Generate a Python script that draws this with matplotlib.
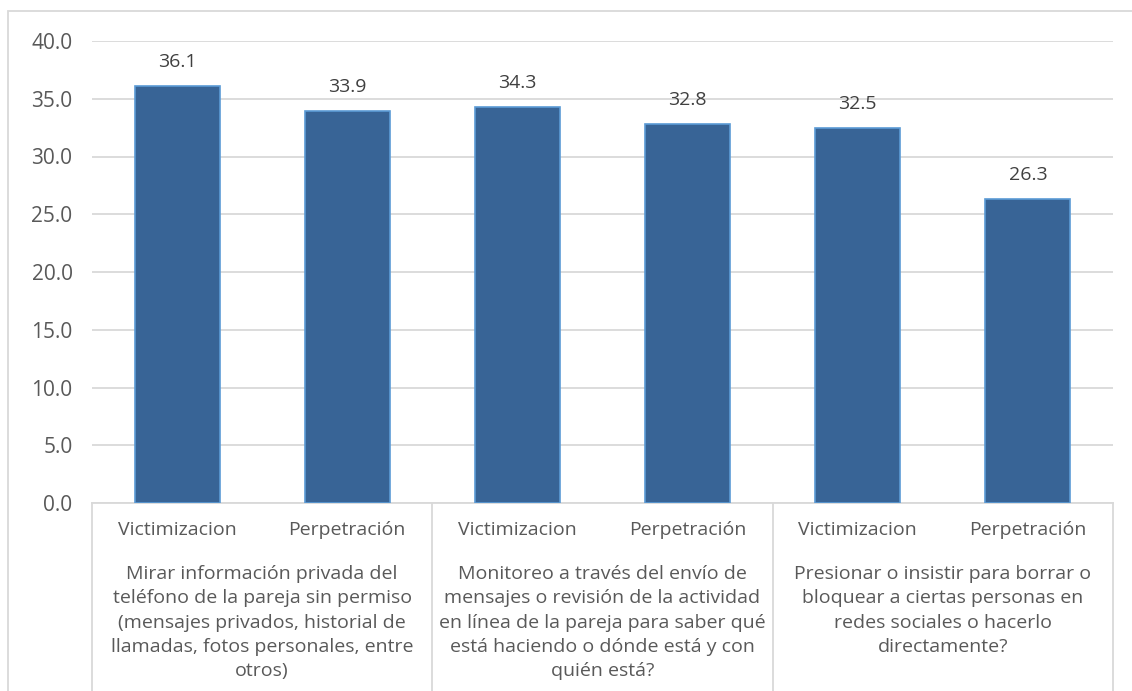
import numpy as np
import matplotlib.pyplot as plt
from matplotlib.patches import Rectangle
from matplotlib.lines import Line2D

plt.rcParams['font.family'] = ['Open Sans', 'DejaVu Sans']

sub_labels = ['Victimizacion', 'Perpetración'] * 3
group_labels = ['Mirar información privada del\nteléfono de la pareja sin permiso\n(mensajes privados, historial de\nllamadas, fotos personales, entre\notros)',
                'Monitoreo a través del envío de\nmensajes o revisión de la actividad\nen línea de la pareja para saber qué\nestá haciendo o dónde está y con\nquién está?',
                'Presionar o insistir para borrar o\nbloquear a ciertas personas en\nredes sociales o hacerlo\ndirectamente?']
values = [36.1, 33.9, 34.3, 32.8, 32.5, 26.3]

W, H = 1132, 691
fig = plt.figure(figsize=(W/100, H/100), dpi=100)
ax = fig.add_axes([92/W, (H-503)/H, (1113-92)/W, (503-41)/H])

x = np.arange(len(values))
ax.bar(x, values, width=0.5, color='#386496', edgecolor='#5b9bd5', linewidth=1.2, zorder=3)
for xi, v in zip(x, values):
    ax.annotate(f'{v:.1f}', (xi, v), xytext=(0, 24), textcoords='offset pixels',
                ha='center', va='center', fontsize=14, color='#404040')

ax.set_xlim(-0.5, len(values) - 0.5)
ax.set_ylim(0, 40)
ax.set_yticks(np.arange(0, 41, 5))
ax.set_yticklabels([f'{t:.1f}' for t in np.arange(0, 41, 5)], fontsize=15, color='#595959')
ax.tick_params(axis='y', length=0, pad=14)
ax.set_xticks([])
ax.grid(axis='y', color='#d9d9d9', linewidth=1.3, zorder=0)
for s in ['top', 'right', 'left']:
    ax.spines[s].set_visible(False)
ax.spines['bottom'].set_color('#d9d9d9')
ax.spines['bottom'].set_linewidth(1.3)

# two-level category labels
tr = ax.get_xaxis_transform()
for xi, lab in zip(x, sub_labels):
    ax.annotate(lab, (xi, 0), xycoords=tr, xytext=(0, -27), textcoords='offset pixels',
                ha='center', va='center', fontsize=14, color='#595959')
for g, lab in enumerate(group_labels):
    ax.annotate(lab, (2*g + 0.5, 0), xycoords=tr, xytext=(0, -62), textcoords='offset pixels',
                ha='center', va='top', fontsize=14, color='#595959', linespacing=1.45)
for b in [-0.5, 1.5, 3.5, 5.5]:
    ax.add_line(Line2D([b, b], [0, -0.5], transform=tr, color='#d9d9d9', linewidth=1.3, clip_on=False))

# outer chart frame
fig.add_artist(Rectangle((8/W, -0.1), 1.2, (H-11)/H + 0.1, transform=fig.transFigure,
                         fill=False, edgecolor='#d9d9d9', linewidth=1.3))

fig.savefig('out.png', dpi=100)
